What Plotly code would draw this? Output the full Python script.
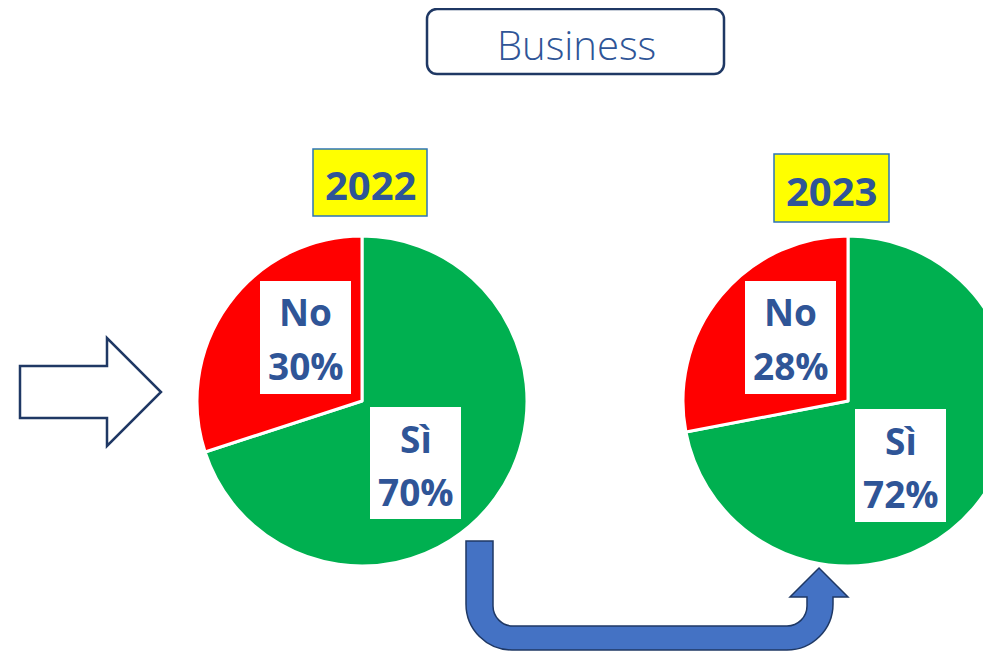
import plotly.graph_objects as go

# ---------------- data ----------------
years = ["2022", "2023"]
labels = ["Sì", "No"]
si_values = [70, 72]
no_values = [30, 28]
slice_colors = ["#00B050", "#FF0000"]
title_text = "Business"

OFF = 8  # page body margin
W, H = 1013 - OFF, 651 - OFF
TXT = "#2F5597"
NAVY = "#1F3864"
FONT = "Open Sans"


def px(x):
    return (x - OFF) / W


def py(y):
    return 1 - (y - OFF) / H


def path(cmds):
    out = []
    for c in cmds:
        if isinstance(c, str):
            out.append(c)
        else:
            out.append(f"{px(c[0]):.5f},{py(c[1]):.5f}")
    return " ".join(out)


fig = go.Figure()

pie_centers = [(362, 401), (848, 401)]
R = 165
for i, yr in enumerate(years):
    cx, cy = pie_centers[i]
    fig.add_trace(go.Pie(
        labels=labels, values=[si_values[i], no_values[i]],
        sort=False, direction="clockwise", rotation=0,
        marker=dict(colors=slice_colors, line=dict(color="white", width=3)),
        textinfo="none", hoverinfo="label+percent", showlegend=False,
        domain=dict(x=[max(0, px(cx - R)), min(1, px(cx + R))], y=[py(cy + R), py(cy - R)]),
    ))

shapes = []
annotations = []

# Title rounded box
x0, x1, y0, y1, r = 427, 724, 9, 74, 10
k = r * 0.552
shapes.append(dict(
    type="path", xref="paper", yref="paper", layer="above",
    path=path(["M", (x0 + r, y0), "L", (x1 - r, y0), "C", (x1 - r + k, y0), (x1, y0 + r - k), (x1, y0 + r),
               "L", (x1, y1 - r), "C", (x1, y1 - r + k), (x1 - r + k, y1), (x1 - r, y1),
               "L", (x0 + r, y1), "C", (x0 + r - k, y1), (x0, y1 - r + k), (x0, y1 - r),
               "L", (x0, y0 + r), "C", (x0, y0 + r - k), (x0 + r - k, y0), (x0 + r, y0), "Z"]),
    fillcolor="white", line=dict(color=NAVY, width=2.5)))
annotations.append(dict(x=px(576), y=py(44), xref="paper", yref="paper", text=title_text,
                        showarrow=False, font=dict(family=FONT, size=40, color=TXT, weight=300),
                        xanchor="center", yanchor="middle"))

# Year boxes
year_boxes = [(313, 427, 149, 216), (774, 889, 154, 222)]
for i, yr in enumerate(years):
    bx0, bx1, by0, by1 = year_boxes[i]
    shapes.append(dict(type="rect", xref="paper", yref="paper", layer="above",
                       x0=px(bx0), x1=px(bx1), y0=py(by1), y1=py(by0),
                       fillcolor="#FFFF00", line=dict(color="#2E75B6", width=1.5)))
    annotations.append(dict(x=px((bx0 + bx1) / 2), y=py((by0 + by1) / 2 + 2), xref="paper", yref="paper",
                            text=f"<b>{yr}</b>", showarrow=False,
                            font=dict(family=FONT, size=40, color=TXT),
                            xanchor="center", yanchor="middle"))

# Label boxes on the pies
no_boxes = [(260, 351, 281, 394), (745, 836, 281, 394)]
si_boxes = [(370, 461, 407, 519), (855, 946, 409, 522)]
for i in range(len(years)):
    for (bx0, bx1, by0, by1), lab, val in ((no_boxes[i], labels[1], no_values[i]),
                                           (si_boxes[i], labels[0], si_values[i])):
        shapes.append(dict(type="rect", xref="paper", yref="paper", layer="above",
                           x0=px(bx0), x1=px(bx1), y0=py(by1), y1=py(by0),
                           fillcolor="white", line=dict(width=0)))
        cxb = (bx0 + bx1) / 2
        annotations.append(dict(x=px(cxb), y=py(by0 + 31), xref="paper", yref="paper",
                                text=f"<b>{lab}</b>", showarrow=False,
                                font=dict(family=FONT, size=37, color=TXT),
                                xanchor="center", yanchor="middle"))
        annotations.append(dict(x=px(cxb), y=py(by0 + 84), xref="paper", yref="paper",
                                text=f"<b>{val}%</b>", showarrow=False,
                                font=dict(family=FONT, size=37, color=TXT),
                                xanchor="center", yanchor="middle"))

# Left outline arrow
shapes.append(dict(type="path", xref="paper", yref="paper", layer="above",
                   path=path(["M", (20, 366), "L", (107, 366), "L", (107, 338), "L", (161, 392),
                              "L", (107, 446), "L", (107, 418), "L", (20, 418), "Z"]),
                   fillcolor="white", line=dict(color=NAVY, width=2.5)))

# Bottom U-turn arrow
ro, ri = 46, 20
ko, ki = ro * 0.552, ri * 0.552
u = ["M", (466, 541), "L", (493, 541), "L", (493, 626 - ri),
     "C", (493, 626 - ri + ki), (493 + ri - ki, 626), (493 + ri, 626),
     "L", (807 - ri, 626), "C", (807 - ri + ki, 626), (807, 626 - ri + ki), (807, 626 - ri),
     "L", (807, 597), "L", (790, 597), "L", (819, 568), "L", (848, 597), "L", (833, 597),
     "L", (833, 650 - ro), "C", (833, 650 - ro + ko), (833 - ro + ko, 650), (833 - ro, 650),
     "L", (466 + ro, 650), "C", (466 + ro - ko, 650), (466, 650 - ro + ko), (466, 650 - ro), "Z"]
shapes.append(dict(type="path", xref="paper", yref="paper", layer="above", path=path(u),
                   fillcolor="#4472C4", line=dict(color=NAVY, width=1.5)))

fig.update_layout(
    width=W, height=H, margin=dict(l=0, r=0, t=0, b=0),
    paper_bgcolor="white", plot_bgcolor="white",
    shapes=shapes, annotations=annotations, showlegend=False,
)

fig.write_html("out.html")
